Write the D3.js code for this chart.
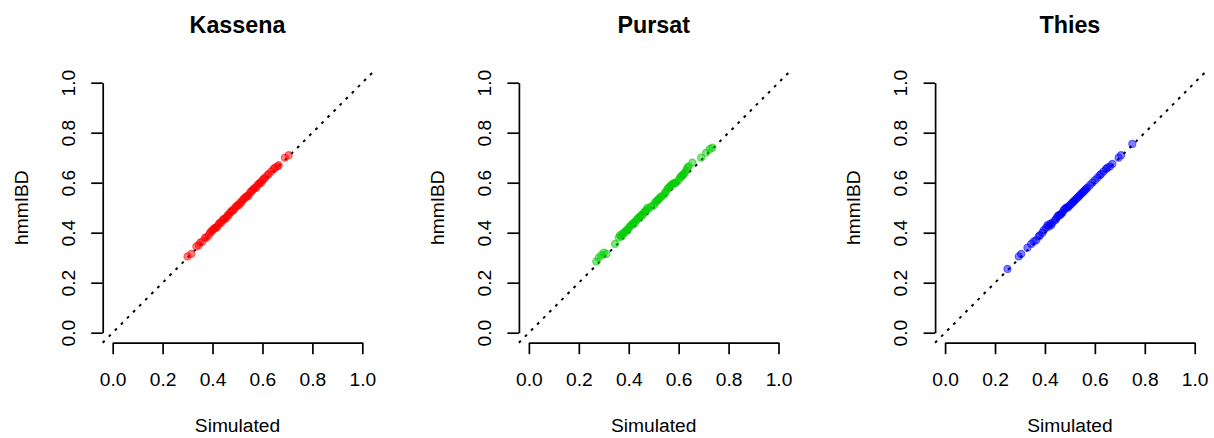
<!DOCTYPE html>
<html>
<head>
<meta charset="utf-8">
<script src="https://cdn.jsdelivr.net/npm/d3@7"></script>
<style>
  html, body { margin: 0; padding: 0; background: #fff; }
  svg { display: block; font-family: "Liberation Sans", Arial, sans-serif; }
</style>
</head>
<body>
<svg id="chart" width="1214" height="438"></svg>
<script>
// Site names, one panel each
const sites = ["Kassena", "Pursat", "Thies"];
const siteColors = ["#FF0000", "#00CD00", "#0000FF"];

// Axis tick values (shared by both axes)
const tickValues = [0.0, 0.2, 0.4, 0.6, 0.8, 1.0];

// Kassena: simulated relatedness vs hmmIBD estimate
const kassenaSim = [0.300,0.315,0.335,0.345,0.350,0.360,0.370,0.375,0.385,0.390,0.395,0.400,0.405,0.410,0.415,0.420,0.425,0.430,0.435,0.440,0.445,0.450,0.455,0.460,0.465,0.470,0.475,0.480,0.485,0.490,0.495,0.500,0.505,0.510,0.515,0.520,0.525,0.530,0.535,0.540,0.545,0.550,0.555,0.560,0.565,0.570,0.575,0.580,0.585,0.590,0.595,0.600,0.605,0.610,0.620,0.625,0.635,0.645,0.650,0.660,0.665,0.690,0.705];
const kassenaHmm = [0.305,0.315,0.345,0.350,0.360,0.365,0.380,0.380,0.390,0.400,0.405,0.410,0.415,0.420,0.420,0.425,0.435,0.440,0.440,0.450,0.455,0.455,0.460,0.470,0.470,0.480,0.485,0.490,0.490,0.500,0.505,0.510,0.510,0.520,0.520,0.530,0.535,0.540,0.545,0.545,0.550,0.560,0.565,0.570,0.575,0.580,0.580,0.590,0.595,0.600,0.600,0.610,0.615,0.620,0.630,0.635,0.645,0.655,0.660,0.665,0.670,0.700,0.710];

// Pursat
const pursatSim = [0.270,0.280,0.290,0.300,0.310,0.345,0.360,0.365,0.370,0.375,0.380,0.385,0.390,0.395,0.400,0.405,0.410,0.415,0.420,0.425,0.430,0.435,0.440,0.445,0.450,0.455,0.460,0.465,0.470,0.475,0.480,0.490,0.500,0.505,0.510,0.515,0.520,0.525,0.530,0.540,0.545,0.550,0.555,0.560,0.565,0.570,0.575,0.580,0.585,0.590,0.600,0.605,0.610,0.615,0.620,0.625,0.630,0.635,0.640,0.655,0.690,0.710,0.725,0.735];
const pursatHmm = [0.285,0.300,0.310,0.320,0.315,0.355,0.380,0.390,0.385,0.395,0.400,0.400,0.410,0.410,0.420,0.425,0.430,0.435,0.440,0.440,0.450,0.455,0.460,0.465,0.470,0.470,0.480,0.485,0.490,0.500,0.495,0.505,0.510,0.520,0.525,0.530,0.535,0.540,0.545,0.550,0.560,0.565,0.575,0.580,0.585,0.590,0.595,0.595,0.600,0.600,0.610,0.620,0.625,0.630,0.635,0.640,0.650,0.660,0.665,0.680,0.700,0.720,0.735,0.740];

// Thies
const thiesSim = [0.250,0.295,0.305,0.330,0.345,0.355,0.365,0.375,0.380,0.390,0.395,0.405,0.410,0.415,0.420,0.425,0.430,0.440,0.445,0.450,0.455,0.460,0.465,0.470,0.475,0.480,0.485,0.490,0.495,0.500,0.505,0.510,0.515,0.520,0.525,0.530,0.535,0.540,0.545,0.550,0.555,0.560,0.565,0.570,0.580,0.590,0.600,0.610,0.620,0.625,0.635,0.645,0.650,0.660,0.670,0.695,0.705,0.750];
const thiesHmm = [0.255,0.305,0.315,0.340,0.355,0.365,0.370,0.385,0.390,0.400,0.410,0.420,0.430,0.425,0.435,0.430,0.440,0.450,0.455,0.465,0.470,0.470,0.475,0.480,0.490,0.495,0.500,0.500,0.505,0.510,0.515,0.520,0.525,0.530,0.535,0.540,0.545,0.550,0.555,0.560,0.565,0.570,0.575,0.580,0.590,0.600,0.610,0.620,0.630,0.635,0.645,0.655,0.660,0.665,0.675,0.700,0.710,0.755];

const simulated = [kassenaSim, pursatSim, thiesSim];
const hmmibd = [kassenaHmm, pursatHmm, thiesHmm];

const svg = d3.select("#chart");
const fontSize = 19.2;
const panelStep = 416.2;
const plotLeft = 102.7, plotWidth = 269.6;
const plotTop = 72.7, plotHeight = 270;
const tickLen = 11.5;
const fontFamily = "Liberation Sans, Arial, sans-serif";

sites.forEach((site, i) => {
  const left = plotLeft + i * panelStep;
  // R-style region: data range padded by 4% on each side
  const x = d3.scaleLinear().domain([-0.04, 1.04]).range([left, left + plotWidth]);
  const y = d3.scaleLinear().domain([-0.04, 1.04]).range([plotTop + plotHeight, plotTop]);

  const g = svg.append("g").attr("class", "panel");

  // Axis scales that cover only the tick span, so the axis line runs 0..1
  const xa = d3.scaleLinear().domain([0, 1]).range([x(0), x(1)]);
  const ya = d3.scaleLinear().domain([0, 1]).range([y(0), y(1)]);

  const xAxis = g.append("g")
    .attr("transform", `translate(0,${y(-0.04)})`)
    .call(d3.axisBottom(xa).tickValues(tickValues).tickSizeInner(tickLen).tickSizeOuter(0)
      .tickFormat(d3.format(".1f")));
  xAxis.selectAll("path, line").attr("stroke", "#000").attr("stroke-width", 1.7);
  xAxis.selectAll("text")
    .attr("y", 386 - y(-0.04)).attr("dy", null)
    .attr("font-size", fontSize).attr("fill", "#000")
    .attr("font-family", fontFamily);

  const yAxis = g.append("g")
    .attr("transform", `translate(${x(-0.04)},0)`)
    .call(d3.axisLeft(ya).tickValues(tickValues).tickSizeInner(tickLen).tickSizeOuter(0)
      .tickFormat(d3.format(".1f")));
  yAxis.selectAll("path, line").attr("stroke", "#000").attr("stroke-width", 1.7);
  yAxis.selectAll("text")
    .attr("x", null).attr("dy", null)
    .attr("text-anchor", "middle")
    .attr("transform", `translate(${74.5 - x(-0.04) + i * panelStep},0) rotate(-90)`)
    .attr("font-size", fontSize).attr("fill", "#000")
    .attr("font-family", fontFamily);

  // y = x reference line across the plotting region
  g.append("line")
    .attr("x1", x(-0.04)).attr("y1", y(-0.04))
    .attr("x2", x(1.04)).attr("y2", y(1.04))
    .attr("stroke", "#000").attr("stroke-width", 2)
    .attr("stroke-dasharray", "2.8,5.8");

  // Points
  const pts = d3.zip(simulated[i], hmmibd[i]);
  g.append("g").selectAll("circle").data(pts).join("circle")
    .attr("cx", d => x(d[0]))
    .attr("cy", d => y(d[1]))
    .attr("r", 3.6)
    .attr("fill", siteColors[i]).attr("fill-opacity", 0.5)
    .attr("stroke", siteColors[i]).attr("stroke-opacity", 0.5)
    .attr("stroke-width", 1.1);

  const cx = (x(0) + x(1)) / 2;
  const cy = (y(0) + y(1)) / 2;

  // Title
  g.append("text")
    .attr("x", cx).attr("y", 33)
    .attr("text-anchor", "middle")
    .attr("font-size", 23.3).attr("font-weight", "bold")
    .text(site);

  // Axis titles
  g.append("text")
    .attr("x", cx).attr("y", 432)
    .attr("text-anchor", "middle")
    .attr("font-size", fontSize)
    .text("Simulated");

  g.append("text")
    .attr("transform", `translate(${28 + i * panelStep},${cy}) rotate(-90)`)
    .attr("text-anchor", "middle")
    .attr("font-size", fontSize)
    .text("hmmIBD");
});
</script>
</body>
</html>
